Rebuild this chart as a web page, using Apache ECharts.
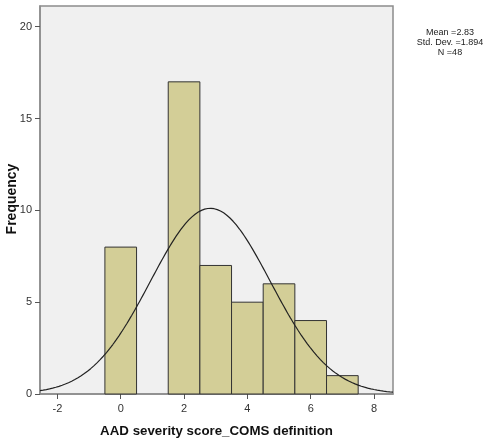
<!DOCTYPE html>
<html>
<head>
<meta charset="utf-8">
<script src="https://cdn.jsdelivr.net/npm/echarts@6/dist/echarts.min.js"></script>
<style>
  html, body { margin: 0; padding: 0; background: #fff; }
  #chart { width: 493px; height: 443px; }
</style>
</head>
<body>
<div id="chart"></div>
<script>
// histogram bins (bin centre, frequency), bin width 1
const binCenters = [0, 2, 3, 4, 5, 6, 7];
const frequencies = [8, 17, 7, 5, 6, 4, 1];
const binWidth = 1;

// stats shown in the legend text
const mean = 2.83;
const stdDev = 1.894;
const n = 48;

const xTicks = [-2, 0, 2, 4, 6, 8];
const yTicks = [0, 5, 10, 15, 20];

// normal curve from the stated mean / sd / N
const curve = [];
for (let x = -2.55; x <= 8.6; x += 0.05) {
  const z = (x - mean) / stdDev;
  curve.push([x, n * binWidth * Math.exp(-0.5 * z * z) / (stdDev * Math.sqrt(2 * Math.PI))]);
}

const font = 'Liberation Sans, Arial, sans-serif';
const chart = echarts.init(document.getElementById('chart'));
chart.setOption({
  animation: false,
  textStyle: { fontFamily: font },
  grid: {
    left: 40, top: 6, right: 100, bottom: 49, outerBoundsMode: 'none', containLabel: false,
    show: true, backgroundColor: '#f0f0f0', borderColor: '#8c8c8c', borderWidth: 1.5
  },
  graphic: [
    {
      type: 'text', x: 450, y: 27,
      style: {
        text: 'Mean =' + mean + '\nStd. Dev. =' + stdDev + '\nN =' + n,
        textAlign: 'center', fill: '#222', fontSize: 9, lineHeight: 10.3, fontFamily: font
      }
    },
    {
      // y axis title
      type: 'text', x: 12, y: 199, rotation: Math.PI / 2,
      style: {
        text: 'Frequency', textAlign: 'center', textVerticalAlign: 'middle',
        fill: '#111', fontSize: 14, fontWeight: 'bold', fontFamily: font
      }
    }
  ],
  xAxis: {
    type: 'value', min: -2.55, max: 8.6,
    name: 'AAD severity score_COMS definition', nameLocation: 'middle', nameGap: 31,
    nameTextStyle: { fontWeight: 'bold', fontSize: 13.3, color: '#111' },
    axisLine: { onZero: false, lineStyle: { color: '#8c8c8c', width: 1.5 } },
    axisTick: { show: true, length: 5, customValues: xTicks, lineStyle: { color: '#555' } },
    axisLabel: { customValues: xTicks, color: '#333', fontSize: 11, margin: 9 },
    splitLine: { show: false }
  },
  yAxis: {
    type: 'value', min: 0, max: 21.13,
    axisLine: { show: true, onZero: false, lineStyle: { color: '#8c8c8c', width: 1.5 } },
    axisTick: { show: true, length: 5, customValues: yTicks, lineStyle: { color: '#555' } },
    axisLabel: { customValues: yTicks, color: '#333', fontSize: 11, margin: 8 },
    splitLine: { show: false }
  },
  series: [
    {
      type: 'custom',
      data: binCenters.map((c, i) => [c, frequencies[i]]),
      renderItem: function (params, api) {
        const c = api.value(0), f = api.value(1);
        const p0 = api.coord([c - binWidth / 2, f]);
        const p1 = api.coord([c + binWidth / 2, 0]);
        return {
          type: 'rect',
          shape: { x: p0[0], y: p0[1], width: p1[0] - p0[0], height: p1[1] - p0[1] },
          style: { fill: '#d3ce97', stroke: '#333', lineWidth: 1 }
        };
      },
      z: 2
    },
    {
      type: 'line', data: curve, showSymbol: false, smooth: false,
      lineStyle: { color: '#222', width: 1.2 }, z: 3
    }
  ]
});
</script>
</body>
</html>
